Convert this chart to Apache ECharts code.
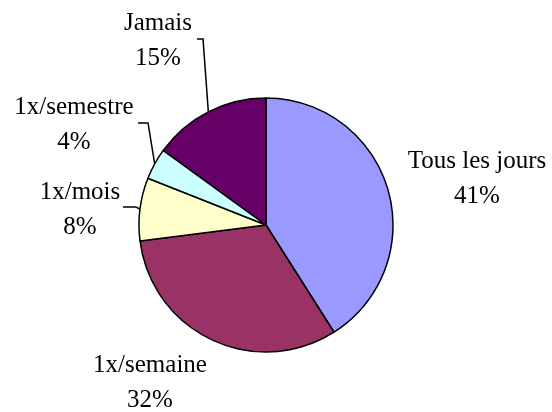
<!DOCTYPE html>
<html>
<head>
<meta charset="utf-8">
<script src="https://cdn.jsdelivr.net/npm/echarts@6/dist/echarts.min.js"></script>
<style>
    html, body { margin: 0; padding: 0; background: #fff; }
    #main { width: 552px; height: 412px; }
</style>
</head>
<body>
<div id="main"></div>
<script>
var categories = ['Tous les jours', '1x/semaine', '1x/mois', '1x/semestre', 'Jamais'];
var values = [41, 32, 8, 4, 15];
var colors = ['#9999FF', '#993366', '#FFFFCC', '#CCFFFF', '#660066'];

// label centre + leader line bend/end, by slice index (layout only)
var labelAt = [
    {x: 477, y: 179},
    {x: 150, y: 383},
    {x: 80, y: 210, line: [[136, 207], [123, 207]]},
    {x: 74, y: 125, line: [[148, 123], [138, 123]]},
    {x: 158, y: 41, line: [[203, 39], [197, 39]]}
];

(function(){
    var myChart = echarts.init(document.getElementById('main'));
    var data = [];
    for (var i = 0; i < categories.length; i++) {
        data.push({
            name: categories[i],
            value: values[i],
            itemStyle: {color: colors[i]},
            labelLine: {show: !!labelAt[i].line}
        });
    }
    var option = {
        backgroundColor: '#fff',
        animation: false,
        series: [
            {
                type: 'pie',
                center: [266, 225],
                radius: 127,
                startAngle: 90,
                clockwise: true,
                itemStyle: {borderColor: '#000', borderWidth: 1.5},
                label: {
                    show: true,
                    position: 'outside',
                    formatter: function(p){ return p.name + '\n' + p.value + '%'; },
                    fontFamily: 'Liberation Serif',
                    fontSize: 25,
                    lineHeight: 35,
                    color: '#000',
                    align: 'center',
                    overflow: 'none',
                    width: 200
                },
                labelLine: {
                    show: true,
                    lineStyle: {color: '#000', width: 1.5}
                },
                labelLayout: function(params){
                    var l = labelAt[params.dataIndex];
                    var res = {
                        x: l.x,
                        y: l.y,
                        align: 'center',
                        verticalAlign: 'middle'
                    };
                    if (l.line && params.labelLinePoints) {
                        res.labelLinePoints = [params.labelLinePoints[0], l.line[0], l.line[1]];
                    }
                    return res;
                },
                data: data
            }
        ]
    };
    myChart.setOption(option);
})();
</script>
</body>
</html>
